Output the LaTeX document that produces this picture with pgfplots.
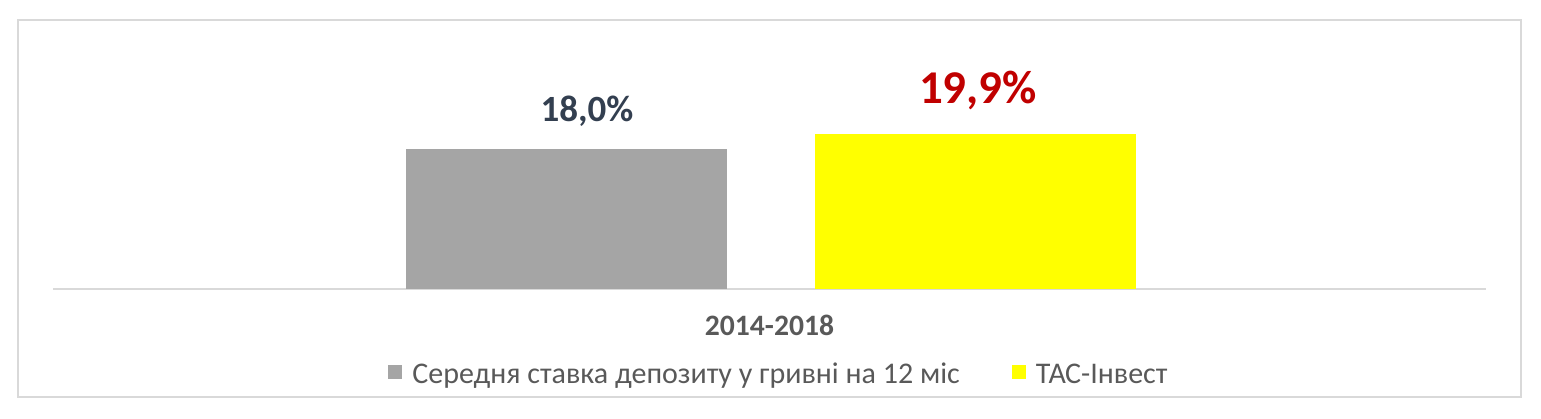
\documentclass[border=0pt]{standalone}
\usepackage{fontspec}
\setmainfont{Carlito}
\usepackage{pgfplots}
\pgfplotsset{compat=1.18}
\definecolor{framegray}{HTML}{D9D9D9}
\definecolor{bargray}{HTML}{A5A5A5}
\definecolor{baryellow}{HTML}{FFFF00}
\definecolor{txtgray}{HTML}{595959}
\definecolor{lblblue}{HTML}{333F50}
\definecolor{lblred}{HTML}{C00000}

\begin{document}
\begin{tikzpicture}
    \path[use as bounding box] (0,0) rectangle (770.5pt,209pt);
    \draw[framegray, line width=0.75pt] (9pt,10.5pt) rectangle (760.5pt,199pt);
    \begin{axis}[
        at={(26.5pt,64.5pt)}, anchor=south west,
        scale only axis, width=716.5pt, height=117pt,
        xmin=-1, xmax=1, ymin=0, ymax=30,
        axis x line*=bottom, axis y line=none,
        axis line style={draw=framegray, line width=0.75pt},
        xtick={0}, xticklabels={2014-2018}, major tick length=0pt,
        xticklabel style={font=\fontsize{14.8}{16}\selectfont\bfseries, text=txtgray, anchor=base, yshift=-23pt},
        ytick=\empty,
        ybar, bar width=160.5pt,
        clip=false,
        /pgf/number format/assume math mode=true,
        legend columns=2,
        legend style={at={(0.2338,-0.3675)}, anchor=west, draw=none, fill=none,
            inner sep=0pt, font=\fontsize{15}{16}\selectfont, text=txtgray,
            cells={anchor=base west}, nodes={inner sep=0pt},
            /tikz/every odd column/.append style={column sep=5pt},
            /tikz/every even column/.append style={column sep=26pt}},
        legend image code/.code={\fill[#1] (0pt,2.5pt) rectangle (7pt,9.5pt);},
    ]
        % average 12-month UAH deposit rate
        \addplot[fill=bargray, draw=none, bar shift=-101.75pt,
            nodes near coords={\pgfmathprintnumber[fixed,fixed zerofill,precision=1,use comma]{\pgfplotspointmeta}\%},
            every node near coord/.append style={anchor=base, yshift=13.5pt, xshift=10.5pt,
                font=\fontsize{18.5}{20}\selectfont\bfseries, text=lblblue}]
            coordinates {(0,18.0)};
        \addlegendentry{Середня ставка депозиту у гривні на 12 міс}
        % TAS-Invest
        \addplot[fill=baryellow, draw=none, bar shift=102.75pt,
            nodes near coords={\pgfmathprintnumber[fixed,fixed zerofill,precision=1,use comma]{\pgfplotspointmeta}\%},
            every node near coord/.append style={anchor=base, yshift=15pt, xshift=1.5pt,
                font=\fontsize{23.5}{25}\selectfont\bfseries, text=lblred}]
            coordinates {(0,19.9)};
        \addlegendentry{ТАС-Інвест}
    \end{axis}
\end{tikzpicture}
\end{document}
